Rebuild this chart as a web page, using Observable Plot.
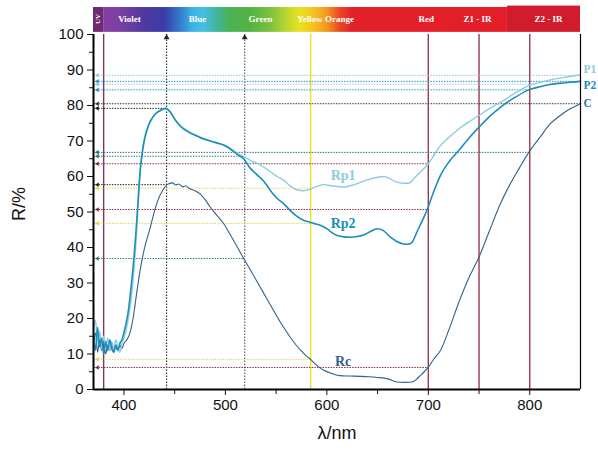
<!DOCTYPE html>
<html><head><meta charset="utf-8">
<script src="https://cdn.jsdelivr.net/npm/d3@7"></script>
<script src="https://cdn.jsdelivr.net/npm/@observablehq/plot@0.6"></script>
<style>html,body{margin:0;padding:0;background:#fff}#chart svg{display:block}</style>
</head><body><div id="chart"></div>
<script>
// ---- data: [wavelength nm, reflectance %]
const rp1 = [[370,17],[372,19.5],[374,13],[376,16.5],[378,11.5],[380,15],[382,12],[384,14.5],[386,11],[388,13.5],[390,11.5],[392,14],[394,12],[396,10.5],[398,13],[400,14.5],[402,16.5],[404,19.5],[406,23],[408,28],[410,34],[412,42],[414,52],[416,61.7],[418,67],[420,70.5],[424.5,74.8],[428,76.5],[431,77.7],[436,78.7],[441,79.2],[446,78.1],[449,76.8],[452.5,75.3],[457,74],[462,73],[467,72.2],[472,71.5],[478,70.8],[485,70.1],[492,69.5],[498,69],[503,68.3],[508,67.3],[513,66.3],[518,65.6],[525,64.5],[532,63.6],[538,62.6],[545,61.2],[551,60],[557.6,58.9],[564,57.3],[571,56.2],[577,56],[584,56.5],[590,57.2],[597,57.7],[604,57.4],[610,57.2],[617,57],[623,57.4],[630,58],[636,58.7],[643,59.3],[650,59.8],[656,60],[662,59.4],[669,58.4],[675,58.1],[681,58.1],[686,59.5],[692,61.2],[700,63.6],[706,66.2],[712,68.7],[721,71.2],[730,73.4],[740,75.4],[750,77.2],[760,79.1],[771,80.9],[785,83.4],[799,85.6],[810,86.5],[820,87.2],[835,88],[850,88.6]];
const rp2 = [[370,15],[372,11],[374,17.5],[376,12],[378,14.5],[380,10],[382,13.5],[384,11],[386,14],[388,11.5],[390,10.5],[392,12.5],[394,11],[396,13],[398,14],[400,16],[402,18.5],[404,21.5],[406,26],[408,31.5],[410,37.5],[412,45],[414,53.5],[416,61.5],[418,66.5],[420,70],[424.5,74.6],[428,76.5],[431,77.6],[436,78.6],[441,79.2],[446,78],[449,76.6],[452.5,75.2],[457,73.8],[462,72.8],[467,72],[472,71.4],[478,70.6],[485,70],[492,69.4],[498,68.9],[503,68.1],[508,67],[513,66],[518,65],[524,62.5],[530,60.8],[538,58.6],[545,55.8],[551,53.8],[557.6,52.3],[564,50.4],[570,48.9],[576,47.8],[581,47.3],[587,46.8],[594,46.2],[600,45.3],[605,44.2],[610,43.4],[617,43],[624,42.9],[630,43.1],[637,43.6],[643,44.5],[649.6,45.3],[655,44.9],[662.7,42.9],[669,41.7],[675.5,41],[680,40.9],[684,41.5],[689,44.5],[694,47.5],[699,50.7],[705,55.5],[712,60.3],[720,64],[730,67.3],[740,70.8],[750,73.9],[760,76.8],[771,79.5],[785,82.2],[799,84.4],[810,85.3],[820,85.9],[835,86.4],[850,86.8]];
const rc = [[370,13],[372,16],[374,10.5],[376,14],[378,11],[380,13.5],[382,10],[384,12.5],[386,11],[388,13],[390,10.5],[392,12],[394,11],[396,12.5],[398,11.5],[400,13],[403,14],[406,16],[409,20],[412,26],[415.6,33],[420,39.5],[426,45.7],[430,50.2],[434,53.7],[438,56],[442.6,57.7],[447.6,58.2],[451,57.6],[454,57.9],[458,57.1],[461,57.4],[464,56.7],[470,56],[475,55.1],[480,53.5],[485,51.4],[490,49.6],[498.4,46.7],[505,43.5],[512,40],[518,36.9],[525,33.5],[530,31],[535,28.5],[540,26],[545,23.5],[550,21],[555,18.6],[560,16.4],[565,14.3],[570,12.4],[575,10.8],[580,9.4],[584,8.5],[590,6.8],[597,5.4],[605,4.5],[613,3.9],[622,3.8],[633,3.7],[641,3.6],[650,3.4],[660,3],[669,2.1],[677,2],[684,2.1],[688,2.8],[692,3.9],[696,5],[700,6.3],[706,8.8],[712,11],[720,16.6],[730,24.5],[740,31.5],[750,37.3],[760,44.5],[771,52.3],[780,57.5],[790,62.5],[799,66.8],[810,71],[820,74.8],[830,77.2],[837,78.6],[850,80.5]];

// horizontal reference lines: value and the wavelength where they stop
const hRefValue = [88.5, 86.8, 86.0, 84.4, 80.5, 79.2, 66.8, 65.7, 63.6, 57.7, 56.7, 50.7, 46.8, 36.9, 8.5, 6.2];
const hRefEnd   = [850, 850, 800, 800, 850, 442, 800, 519, 700, 442, 584, 700, 584, 519, 584, 700];
const hRefColor = ["#8fcbe0","#2d97bb","#8fcbe0","#2d97bb","#3a3a3a","#222222","#2f6f86","#3b7d62","#8e2c42","#222222","#e2d84a","#8e2c42","#e2d84a","#3b7d62","#e2d84a","#8e2c42"];

// vertical marker lines
const vSolidNm = [380, 584, 700, 750, 800];
const vSolidColor = ["#7c3565", "#e9e02e", "#9c3a4a", "#9c3a4a", "#9c3a4a"];
const vDotNm = [442, 519];
const vDotColor = ["#333333", "#666666"];

// spectrum bar
const specStopNm = [380, 395, 420, 440, 455, 468, 478, 492, 505, 525, 545, 560, 574, 588, 600, 612, 625, 778];
const specStopColor = ["#8440a0","#7c40a4","#5038a0","#3a3ca8","#3478cc","#3cb4e6","#48bfe0","#40b49a","#4cb254","#52b444","#7cc23c","#b8d530","#ece120","#f4c020","#f29a20","#ea4e22","#e2202a","#e31e2a"];
const bandLabelNm = [374, 405.5, 472.5, 534.6, 598.7, 698, 748.5, 818.5];
const bandLabelText = ["UV", "Violet", "Blue", "Green", "Yellow Orange", "Red", "Z1 - IR", "Z2 - IR"];

const xMajor = [400, 500, 600, 700, 800];
const xMinor = [450, 550, 650, 750];
const yMajor = [0, 10, 20, 30, 40, 50, 60, 70, 80, 90, 100];
const yMinor = [5, 15, 25, 35, 45, 55, 65, 75, 85, 95];

const curveLabels = [{nm: 616, R: 60.3, label: "Rp1", color: "#8fcbe0"}, {nm: 616, R: 46.8, label: "Rp2", color: "#1b8fb8"}, {nm: 616, R: 7.8, label: "Rc", color: "#2e5f90"}];
const rightLabels = [{R: 90.2, label: "P1", color: "#8fcbe0"}, {R: 85.7, label: "P2", color: "#1b8fb8"}, {R: 80.5, label: "C", color: "#1b7fa6"}];

// ---- tables
const hRefs = hRefValue.map((R, i) => ({R, end: hRefEnd[i], color: hRefColor[i]}));
const vSolid = vSolidNm.map((nm, i) => ({nm, color: vSolidColor[i]}));
const vDot = vDotNm.map((nm, i) => ({nm, color: vDotColor[i]}));
const bandLabels = bandLabelNm.map((nm, i) => ({nm, text: bandLabelText[i]}));

const serif = "'Liberation Serif', 'DejaVu Serif', serif";
const X = d => d[0], Y = d => d[1];

const plot = Plot.plot({
  width: 598, height: 451,
  marginLeft: 93, marginRight: 18, marginTop: 34, marginBottom: 62,
  x: {domain: [370, 850]},
  y: {domain: [0, 100]},
  color: {type: "identity"},
  style: {fontFamily: "'Liberation Sans', Arial, sans-serif", fontSize: "15px", color: "#111", background: "#fff"},
  marks: [
    // spectrum bar
    Plot.rect([{a: 370, b: 380}], {x1: "a", x2: "b", y1: 100.6, y2: 107.6, fill: "#6e2a70"}),
    Plot.rect([{a: 380, b: 778}], {x1: "a", x2: "b", y1: 100.6, y2: 107.6, fill: "url(#specGrad)"}),
    Plot.rect([{a: 778, b: 850}], {x1: "a", x2: "b", y1: 100.6, y2: 108.0, fill: "#d01c2c"}),
    Plot.text(bandLabels.filter(d => d.text === "UV"), {x: "nm", y: 104.4, text: "text", rotate: -90, fill: "#fff", fontSize: 7, fontWeight: "bold", fontFamily: serif}),
    Plot.text(bandLabels.filter(d => d.text !== "UV"), {x: "nm", y: 104.4, text: "text", fill: "#fff", fontSize: 9, fontWeight: "bold", fontFamily: serif}),
    // vertical lines
    Plot.ruleX(vSolid, {x: "nm", y1: 0, y2: 100, stroke: "color", strokeWidth: 1.4}),
    Plot.ruleX(vDot, {x: "nm", y1: 0, y2: 100, stroke: "color", strokeWidth: 1.2, strokeDasharray: "1.5,1.5"}),
    Plot.dot(vDot, {x: "nm", y: 100, symbol: "triangle", r: 2.2, fill: "#222", stroke: null, dy: 3}),
    // horizontal reference lines
    Plot.ruleY(hRefs, {y: "R", x1: 370, x2: "end", stroke: "color", strokeWidth: 1, strokeDasharray: "1.5,1.2"}),
    Plot.dot(hRefs, {x: 370, y: "R", symbol: "triangle", rotate: -90, r: 1.7, fill: "color", stroke: null, dx: 4}),
    // curves
    Plot.line(rc, {x: X, y: Y, stroke: "#30628a", strokeWidth: 1.1, curve: "monotone-x"}),
    Plot.line(rp1, {x: X, y: Y, stroke: "#8fcbe0", strokeWidth: 1.4, curve: "monotone-x"}),
    Plot.line(rp2, {x: X, y: Y, stroke: "#1b8fb8", strokeWidth: 1.6, curve: "monotone-x"}),
    // curve labels
    Plot.text(curveLabels, {x: "nm", y: "R", text: "label", fill: "color", fontSize: 14, fontWeight: "bold", fontFamily: serif}),
    Plot.text(rightLabels, {x: 850, y: "R", text: "label", fill: "color", textAnchor: "start", dx: 3, fontSize: 11.5, fontWeight: "bold", fontFamily: serif}),
    // axes
    Plot.axisX({ticks: xMajor, tickSize: 6, tickPadding: 4, tickFormat: d => String(d), label: null, fontSize: 15}),
    Plot.axisX({ticks: xMinor, tickSize: 5, tickFormat: () => "", label: null}),
    Plot.axisY({ticks: yMajor, tickSize: 6, tickPadding: 4, tickFormat: d => String(d), label: null, fontSize: 15}),
    Plot.axisY({ticks: yMinor, tickSize: 4, tickFormat: () => "", label: null}),
    Plot.ruleY([0], {x1: 370, x2: 850, stroke: "#000", strokeWidth: 2}),
    Plot.ruleX([370], {y1: 0, y2: 100, stroke: "#000", strokeWidth: 2}),
    Plot.ruleX([850], {y1: 0, y2: 100, stroke: "#000", strokeWidth: 1.2}),
    Plot.text(["λ/nm"], {frameAnchor: "bottom", dy: 49, fontSize: 18}),
    Plot.text(["R/%"], {frameAnchor: "left", rotate: -90, dx: -74, dy: 9, fontSize: 18})
  ]
});

// gradient definition for the visible-light part of the bar
const svg = d3.select(plot.tagName === "svg" ? plot : plot.querySelector("svg"));
const grad = svg.insert("defs", ":first-child").append("linearGradient")
  .attr("id", "specGrad").attr("x1", "0").attr("x2", "1").attr("y1", "0").attr("y2", "0");
const s0 = specStopNm[0], s1 = specStopNm[specStopNm.length - 1];
specStopNm.forEach((nm, i) => {
  grad.append("stop").attr("offset", (nm - s0) / (s1 - s0)).attr("stop-color", specStopColor[i]);
});

document.getElementById("chart").append(plot);
</script>
</body></html>
